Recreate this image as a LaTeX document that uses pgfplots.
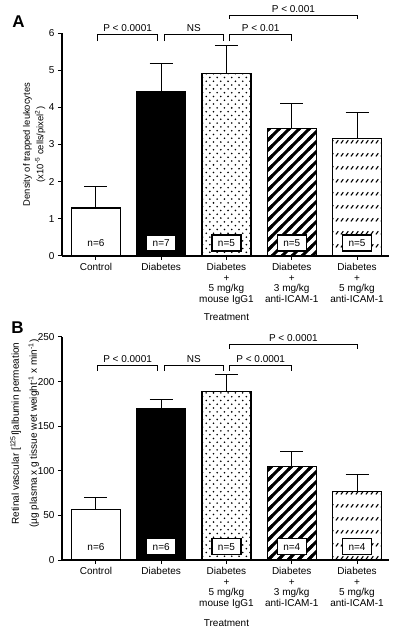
\documentclass[border=0pt]{standalone}
\usepackage{fontspec}
\setmainfont{Liberation Sans}
\usepackage{pgfplots}
\pgfplotsset{compat=1.18}
\usetikzlibrary{patterns}

% staggered dots
\pgfdeclarepatternformonly{mydots}{\pgfqpoint{-1pt}{-1pt}}{\pgfqpoint{8.3pt}{8.6pt}}{\pgfqpoint{7.3pt}{7.6pt}}{%
  \pgfpathcircle{\pgfqpoint{1.8pt}{1.9pt}}{0.9pt}%
  \pgfpathcircle{\pgfqpoint{5.45pt}{5.7pt}}{0.9pt}%
  \pgfusepath{fill}}
% thick north-east stripes
\pgfdeclarepatternformonly{thickne}{\pgfqpoint{-3pt}{-3pt}}{\pgfqpoint{13pt}{13pt}}{\pgfqpoint{10pt}{10pt}}{%
  \pgfsetlinewidth{3pt}%
  \pgfpathmoveto{\pgfqpoint{-3pt}{-3pt}}\pgfpathlineto{\pgfqpoint{13pt}{13pt}}%
  \pgfusepath{stroke}}
% rows of short slashes
\pgfdeclarepatternformonly{slashrows}{\pgfqpoint{-1pt}{-1pt}}{\pgfqpoint{6pt}{14pt}}{\pgfqpoint{5pt}{13pt}}{%
  \pgfsetlinewidth{1.1pt}%
  \pgfpathmoveto{\pgfqpoint{0.9pt}{0.6pt}}\pgfpathlineto{\pgfqpoint{3.3pt}{3.8pt}}%
  \pgfusepath{stroke}}

\pgfplotsset{
  panel/.style={
    scale only axis, width=327pt, height=223pt,
    xmin=-0.52, xmax=4.49, ymin=0,
    axis x line=bottom, axis y line=left,
    axis line style={-, line width=1.1pt},
    tick align=outside, major tick length=4pt,
    tick style={black, line width=1pt},
    xtick={0,1,2,3,4},
    xticklabels={Control, Diabetes, {Diabetes\\+\\5 mg/kg\\mouse IgG1}, {Diabetes\\+\\3 mg/kg\\anti-ICAM-1}, {Diabetes\\+\\5 mg/kg\\anti-ICAM-1}},
    xticklabel style={align=center, font=\fontsize{10}{10.5}\selectfont},
    yticklabel style={font=\fontsize{10}{12}\selectfont},
    /pgf/number format/assume math mode=true,
    ybar, bar width=49pt,
    clip=false,
    xlabel={Treatment},
    xlabel style={font=\fontsize{10}{12}\selectfont},
    error bars/y dir=plus, error bars/y explicit,
    error bars/error mark=|,
    error bars/error bar style={line width=1pt, black, solid},
    error bars/error mark options={line width=1pt, mark size=11.5pt, black, solid},
  },
  bk/.style={bar shift=0pt, draw=black, line width=1.2pt},
}
\tikzset{
  nbox/.style={draw, fill=white, line width=1.1pt, inner sep=1pt, minimum width=29pt, minimum height=16pt, font=\fontsize{10}{12}\selectfont},
  ptxt/.style={anchor=base, yshift=3pt, font=\fontsize{10}{12}\selectfont},
}

\begin{document}
\begin{tikzpicture}
% ---------- Panel A ----------
\begin{axis}[panel, at={(62pt,382pt)}, anchor=south west,
  ymax=6, ytick={0,1,2,3,4,5,6},
  xlabel style={at={(axis description cs:0.503,-0.2735)}, anchor=center},
  ylabel={Density of trapped leukocytes\\[3pt](x10\textsuperscript{-5} cells/pixel\textsuperscript{2})},
  ylabel style={align=center, font=\fontsize{9.4}{10.5}\selectfont, at={(axis description cs:-0.085,0.5)}, anchor=center},
]
\addplot[bk, fill=white] coordinates {(0,1.29) +- (0,0.59)};
\addplot[bk, fill=black] coordinates {(1,4.42) +- (0,0.75)};
\addplot[bk, pattern=mydots] coordinates {(2,4.92) +- (0,0.75)};
\addplot[bk, pattern=thickne] coordinates {(3,3.43) +- (0,0.66)};
\addplot[bk, pattern=slashrows] coordinates {(4,3.16) +- (0,0.71)};

\node[font=\fontsize{10}{12}\selectfont] at (axis cs:0,0.35) {n=6};
\node[nbox] at (axis cs:1,0.35) {n=7};
\node[nbox] at (axis cs:2,0.35) {n=5};
\node[nbox] at (axis cs:3,0.35) {n=5};
\node[nbox] at (axis cs:4,0.35) {n=5};

\draw[line width=1pt] (axis cs:0.02,5.78) |- (axis cs:0.95,5.95) -- (axis cs:0.95,5.78);
\node[ptxt] at (axis cs:0.485,5.95) {P < 0.0001};
\draw[line width=1pt] (axis cs:1.05,5.78) |- (axis cs:1.95,5.95) -- (axis cs:1.95,5.78);
\node[ptxt] at (axis cs:1.5,5.95) {NS};
\draw[line width=1pt] (axis cs:2.05,5.78) |- (axis cs:3.0,5.95) -- (axis cs:3.0,5.78);
\node[ptxt] at (axis cs:2.525,5.95) {P < 0.01};
\draw[line width=1pt] (axis cs:2.05,6.38) |- (axis cs:4.0,6.48) -- (axis cs:4.0,6.38);
\node[ptxt] at (axis cs:3.025,6.48) {P < 0.001};
\end{axis}

% ---------- Panel B ----------
\begin{axis}[panel, at={(62pt,78pt)}, anchor=south west,
  ymax=250, ytick={0,50,100,150,200,250},
  xlabel style={at={(axis description cs:0.503,-0.2825)}, anchor=center},
  ylabel={Retinal vascular [\textsuperscript{125}I]albumin permeation\\[7pt](µg plasma x g tissue wet weight\textsuperscript{-1} x min\textsuperscript{-1})},
  ylabel style={align=center, font=\fontsize{10}{11}\selectfont, at={(axis description cs:-0.114,0.567)}, anchor=center},
]
\addplot[bk, fill=white] coordinates {(0,57) +- (0,13.5)};
\addplot[bk, fill=black] coordinates {(1,170) +- (0,9.5)};
\addplot[bk, pattern=mydots] coordinates {(2,189) +- (0,19)};
\addplot[bk, pattern=thickne] coordinates {(3,105) +- (0,17)};
\addplot[bk, pattern=slashrows] coordinates {(4,77) +- (0,19)};

\node[font=\fontsize{10}{12}\selectfont] at (axis cs:0,15) {n=6};
\node[nbox] at (axis cs:1,15) {n=6};
\node[nbox] at (axis cs:2,15) {n=5};
\node[nbox] at (axis cs:3,15) {n=4};
\node[nbox] at (axis cs:4,15) {n=4};

\draw[line width=1pt] (axis cs:0.02,212) |- (axis cs:0.95,218.6) -- (axis cs:0.95,212);
\node[ptxt] at (axis cs:0.485,218.6) {P < 0.0001};
\draw[line width=1pt] (axis cs:1.05,212) |- (axis cs:1.95,218.6) -- (axis cs:1.95,212);
\node[ptxt] at (axis cs:1.5,218.6) {NS};
\draw[line width=1pt] (axis cs:2.05,212) |- (axis cs:3.0,218.6) -- (axis cs:3.0,212);
\node[ptxt] at (axis cs:2.525,218.6) {P < 0.0001};
\draw[line width=1pt] (axis cs:2.05,236.5) |- (axis cs:4.0,242) -- (axis cs:4.0,236.5);
\node[ptxt] at (axis cs:3.025,242) {P < 0.0001};
\end{axis}

\node[font=\fontsize{17}{17}\selectfont\bfseries] at (18.5pt,616.5pt) {A};
\node[font=\fontsize{17}{17}\selectfont\bfseries] at (17.5pt,310.5pt) {B};

\pgfresetboundingbox
\path[use as bounding box] (0,0) rectangle (400pt,638pt);
\end{tikzpicture}
\end{document}
